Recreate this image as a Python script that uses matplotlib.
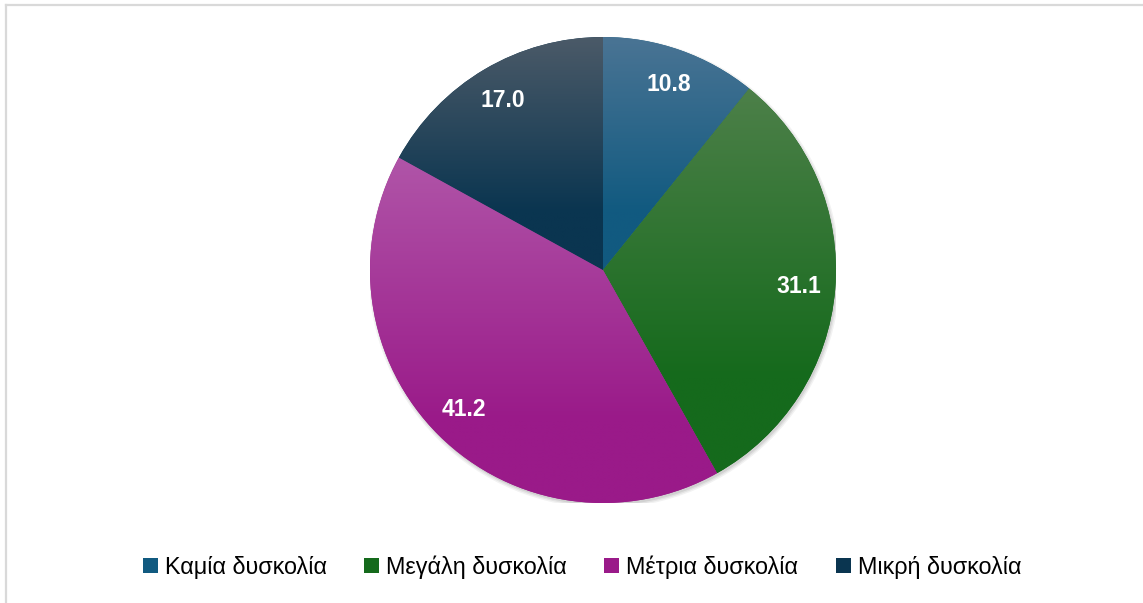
import numpy as np
import matplotlib.pyplot as plt
from matplotlib.patches import Patch, Circle
from matplotlib.colors import LinearSegmentedColormap
from matplotlib.lines import Line2D

# Data
labels = ['Καμία δυσκολία', 'Μεγάλη δυσκολία', 'Μέτρια δυσκολία', 'Μικρή δυσκολία']
values = [10.8, 31.1, 41.2, 17.0]
value_text = ['10.8', '31.1', '41.2', '17.0']

# gradient colours (top, bottom) per slice
top_colors = ['#4a7494', '#4d8049', '#b055a8', '#4b5a68']
bottom_colors = ['#115a80', '#156a1c', '#9a1a89', '#0a3550']

W, H = 1143, 603
fig = plt.figure(figsize=(W / 100, H / 100), dpi=100)

# outer frame (only left/top visible in the reference)
fig.add_artist(Line2D([5.5 / W, 5.5 / W], [0, 1 - 4.5 / H], color='#d9d9d9', lw=1.6,
                      transform=fig.transFigure))
fig.add_artist(Line2D([5.5 / W, 1], [1 - 4.5 / H, 1 - 4.5 / H], color='#d9d9d9', lw=1.6,
                      transform=fig.transFigure))

cx, cy, r = 603, H - 270, 233
ax = fig.add_axes([(cx - r) / W, (cy - r) / H, 2 * r / W, 2 * r / H])
ax.set_xlim(-1, 1)
ax.set_ylim(-1, 1)
ax.set_aspect('equal')
ax.axis('off')

# soft shadow
for i, a in enumerate([0.05, 0.06, 0.08]):
    ax.add_patch(Circle((0.006, -0.01), 1.0 + 0.012 - i * 0.006, color='black', alpha=a,
                        lw=0, zorder=0))

wedges, _ = ax.pie(values, startangle=90, counterclock=False, radius=1.0,
                   wedgeprops=dict(linewidth=0))

for w, c0, c1 in zip(wedges, top_colors, bottom_colors):
    w.set_zorder(1)
    pts = w.get_patch_transform().transform(w.get_path().vertices)
    x0, x1 = pts[:, 0].min(), pts[:, 0].max()
    y0, y1 = pts[:, 1].min(), pts[:, 1].max()
    cmap = LinearSegmentedColormap.from_list('g', [(0, c1), (0.25, c1), (1, c0)])
    grad = np.linspace(0, 1, 256)[:, None]
    im = ax.imshow(grad, cmap=cmap, extent=[x0, x1, y0, y1], origin='lower',
                   aspect='auto', zorder=2, interpolation='bilinear')
    im.set_clip_path(w)
    w.set_facecolor(c1)

# value labels
total = sum(values)
start = 90.0
for v, txt in zip(values, value_text):
    mid = np.deg2rad(start - v / total * 360 / 2)
    start -= v / total * 360
    ax.text(0.845 * np.cos(mid), 0.845 * np.sin(mid), txt, ha='center', va='center',
            color='white', fontsize=16.5, fontweight='bold', family='Liberation Sans',
            zorder=5)

ax.set_xlim(-1, 1)
ax.set_ylim(-1, 1)

handles = [Patch(facecolor=c, edgecolor='none') for c in bottom_colors]
fig.legend(handles, labels, loc='center', bbox_to_anchor=(582 / W, 1 - 567 / H), ncol=4,
           frameon=False, prop={'family': ['Liberation Sans Narrow', 'Liberation Sans'], 'size': 16.8},
           handlelength=0.65, handleheight=0.65, handletextpad=0.3, columnspacing=1.6)

fig.savefig('out.png', dpi=100)
